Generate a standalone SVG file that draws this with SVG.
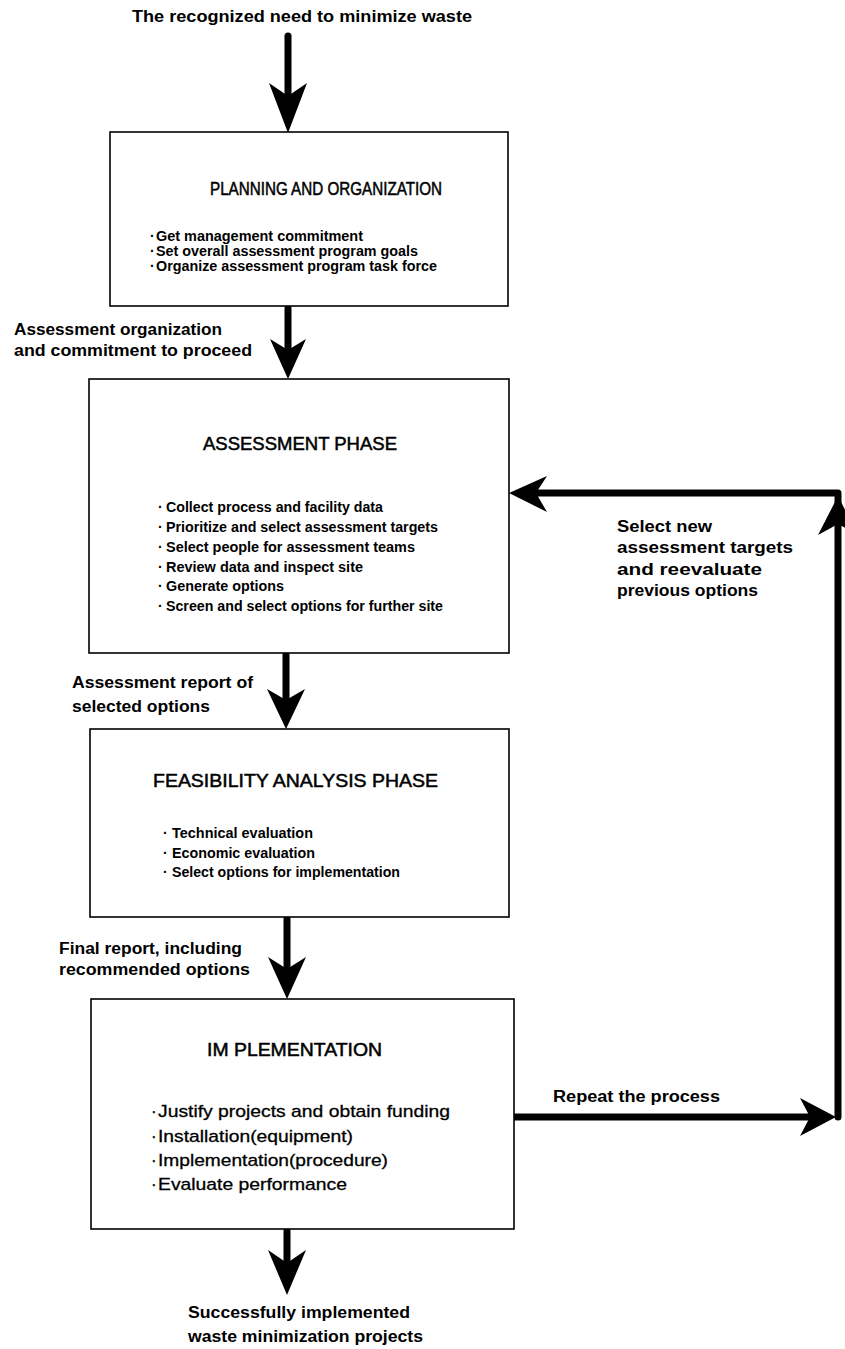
<svg xmlns="http://www.w3.org/2000/svg" width="845" height="1349" viewBox="0 0 845 1349">
<style>
.box{fill:#fff;stroke:#000;stroke-width:1.6}
.t{font-family:"Liberation Sans",Arial,sans-serif;fill:#000}
.lbl{font-size:16px;font-weight:bold}
.ttl{font-size:18px;stroke:#000;stroke-width:0.5}
.sm{font-size:14px;font-weight:bold}
.md{font-size:17px;stroke:#000;stroke-width:0.3}
.shaft{stroke:#000;stroke-width:7;stroke-linecap:round;stroke-linejoin:round;fill:none}
.head{fill:#000}
</style>
<rect width="845" height="1349" fill="#fff"/>
<g id="connectors">
  <line class="shaft" x1="288" y1="36" x2="288" y2="110"/>
  <polygon class="head" points="288,133 269,83 288,96 307,83"/>
  <line class="shaft" x1="288" y1="308" x2="288" y2="360"/>
  <polygon class="head" points="288,379 270,339 288,350 306,339"/>
  <line class="shaft" x1="286" y1="655" x2="286" y2="710"/>
  <polygon class="head" points="286,729 267,689 286,700 305,689"/>
  <line class="shaft" x1="287" y1="919" x2="287" y2="980"/>
  <polygon class="head" points="287,999 268,957 287,969 306,957"/>
  <line class="shaft" x1="287" y1="1231" x2="287" y2="1275"/>
  <polygon class="head" points="287,1295 268,1250 287,1263 306,1250"/>
  <polyline class="shaft" points="512,1117 812,1117"/>
  <polygon class="head" points="836,1117 800,1098 810,1117 800,1136"/>
  <polyline class="shaft" points="838,1117 838,493 530,493"/>
  <polygon class="head" points="509,493 547,476 536,493 547,512"/>
  <polygon class="head" points="838,496 818,535 838,524 858,535"/>
</g>
<g id="start">
  <text class="t lbl" x="132" y="22" textLength="340" lengthAdjust="spacingAndGlyphs">The recognized need to minimize waste</text>
</g>
<g id="planning">
  <rect class="box" x="110" y="132" width="398" height="174"/>
  <text class="t ttl" x="210" y="195" textLength="232" lengthAdjust="spacingAndGlyphs">PLANNING AND ORGANIZATION</text>
  <text class="t sm" x="150" y="241">·</text>
  <text class="t sm" x="156" y="241" textLength="207" lengthAdjust="spacingAndGlyphs">Get management commitment</text>
  <text class="t sm" x="150" y="256">·</text>
  <text class="t sm" x="156" y="256" textLength="262" lengthAdjust="spacingAndGlyphs">Set overall assessment program goals</text>
  <text class="t sm" x="150" y="271">·</text>
  <text class="t sm" x="156" y="271" textLength="281" lengthAdjust="spacingAndGlyphs">Organize assessment program task force</text>
</g>
<g id="label-org">
  <text class="t lbl" x="14" y="335" textLength="208" lengthAdjust="spacingAndGlyphs">Assessment organization</text>
  <text class="t lbl" x="14" y="356" textLength="238" lengthAdjust="spacingAndGlyphs">and commitment to proceed</text>
</g>
<g id="assessment">
  <rect class="box" x="89" y="379" width="420" height="274"/>
  <text class="t ttl" x="203" y="450" textLength="194" lengthAdjust="spacingAndGlyphs">ASSESSMENT PHASE</text>
  <text class="t sm" x="158" y="512">·</text>
  <text class="t sm" x="166" y="512" textLength="217" lengthAdjust="spacingAndGlyphs">Collect process and facility data</text>
  <text class="t sm" x="158" y="532">·</text>
  <text class="t sm" x="166" y="532" textLength="272" lengthAdjust="spacingAndGlyphs">Prioritize and select assessment targets</text>
  <text class="t sm" x="158" y="552">·</text>
  <text class="t sm" x="166" y="552" textLength="249" lengthAdjust="spacingAndGlyphs">Select people for assessment teams</text>
  <text class="t sm" x="158" y="572">·</text>
  <text class="t sm" x="166" y="572" textLength="197" lengthAdjust="spacingAndGlyphs">Review data and inspect site</text>
  <text class="t sm" x="158" y="591">·</text>
  <text class="t sm" x="166" y="591" textLength="118" lengthAdjust="spacingAndGlyphs">Generate options</text>
  <text class="t sm" x="158" y="611">·</text>
  <text class="t sm" x="166" y="611" textLength="277" lengthAdjust="spacingAndGlyphs">Screen and select options for further site</text>
</g>
<g id="label-select">
  <text class="t lbl" x="617" y="532" textLength="95" lengthAdjust="spacingAndGlyphs">Select new</text>
  <text class="t lbl" x="617" y="553" textLength="176" lengthAdjust="spacingAndGlyphs">assessment targets</text>
  <text class="t lbl" x="617" y="575" textLength="145" lengthAdjust="spacingAndGlyphs">and reevaluate</text>
  <text class="t lbl" x="617" y="596" textLength="141" lengthAdjust="spacingAndGlyphs">previous options</text>
</g>
<g id="label-report">
  <text class="t lbl" x="72" y="688" textLength="181" lengthAdjust="spacingAndGlyphs">Assessment report of</text>
  <text class="t lbl" x="72" y="712" textLength="138" lengthAdjust="spacingAndGlyphs">selected options</text>
</g>
<g id="feasibility">
  <rect class="box" x="90" y="729" width="419" height="188"/>
  <text class="t ttl" x="153" y="787" textLength="285" lengthAdjust="spacingAndGlyphs">FEASIBILITY ANALYSIS PHASE</text>
  <text class="t sm" x="163" y="838">·</text>
  <text class="t sm" x="172" y="838" textLength="141" lengthAdjust="spacingAndGlyphs">Technical evaluation</text>
  <text class="t sm" x="163" y="858">·</text>
  <text class="t sm" x="172" y="858" textLength="143" lengthAdjust="spacingAndGlyphs">Economic evaluation</text>
  <text class="t sm" x="163" y="877">·</text>
  <text class="t sm" x="172" y="877" textLength="228" lengthAdjust="spacingAndGlyphs">Select options for implementation</text>
</g>
<g id="label-final">
  <text class="t lbl" x="59" y="954" textLength="183" lengthAdjust="spacingAndGlyphs">Final report, including</text>
  <text class="t lbl" x="59" y="975" textLength="191" lengthAdjust="spacingAndGlyphs">recommended options</text>
</g>
<g id="implementation">
  <rect class="box" x="91" y="999" width="423" height="230"/>
  <text class="t ttl" x="207" y="1056" textLength="175" lengthAdjust="spacingAndGlyphs">IM PLEMENTATION</text>
  <text class="t md" x="151" y="1117">·</text>
  <text class="t md" x="158" y="1117" textLength="292" lengthAdjust="spacingAndGlyphs">Justify projects and obtain funding</text>
  <text class="t md" x="151" y="1142">·</text>
  <text class="t md" x="158" y="1142" textLength="195" lengthAdjust="spacingAndGlyphs">Installation(equipment)</text>
  <text class="t md" x="151" y="1166">·</text>
  <text class="t md" x="158" y="1166" textLength="230" lengthAdjust="spacingAndGlyphs">Implementation(procedure)</text>
  <text class="t md" x="151" y="1190">·</text>
  <text class="t md" x="158" y="1190" textLength="189" lengthAdjust="spacingAndGlyphs">Evaluate performance</text>
</g>
<g id="label-repeat">
  <text class="t lbl" x="553" y="1102" textLength="167" lengthAdjust="spacingAndGlyphs">Repeat the process</text>
</g>
<g id="end">
  <text class="t lbl" x="188" y="1318" textLength="222" lengthAdjust="spacingAndGlyphs">Successfully implemented</text>
  <text class="t lbl" x="188" y="1342" textLength="235" lengthAdjust="spacingAndGlyphs">waste minimization projects</text>
</g>
</svg>
